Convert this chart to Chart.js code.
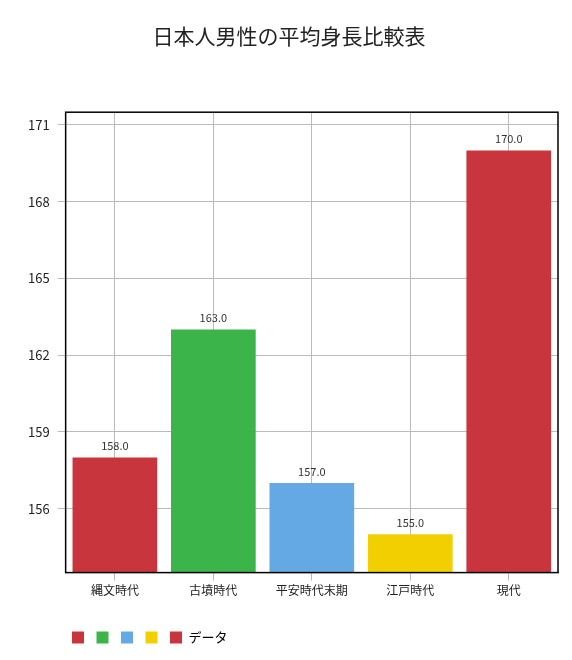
<!DOCTYPE html>
<html><head><meta charset="utf-8">
<script src="https://cdn.jsdelivr.net/npm/chart.js@4"></script>
<style>body{margin:0;background:#fff}#wrap{width:572px;height:660px}</style>
</head><body><div id="wrap"><canvas id="c"></canvas></div>
<script>
const categories = ['縄文時代', '古墳時代', '平安時代末期', '江戸時代', '現代'];
const heights = [158.0, 163.0, 157.0, 155.0, 170.0];
const barColors = ['#c9353d', '#3bb54a', '#64a9e3', '#f2cf00', '#c9353d'];
const yTicks = [156, 159, 162, 165, 168, 171];
const font = '"Noto Sans CJK JP", "Noto Sans", sans-serif';

const valueLabels = {
  id: 'valueLabels',
  afterDatasetsDraw(chart) {
    const ctx = chart.ctx;
    ctx.save();
    ctx.font = '11px ' + font;
    ctx.fillStyle = '#333';
    ctx.textAlign = 'center';
    ctx.textBaseline = 'bottom';
    chart.getDatasetMeta(0).data.forEach((bar, i) => {
      ctx.fillText(heights[i].toFixed(1), bar.x, bar.y - 6);
    });
    ctx.restore();
  }
};
const frame = {
  id: 'frame',
  afterLayout(chart) {
    // push the legend in to line up with the plot area
    chart.legend.left += 46;
    chart.legend.right += 46;
  },
  afterDraw(chart) {
    const a = chart.chartArea, ctx = chart.ctx;
    ctx.save();
    ctx.strokeStyle = '#000';
    ctx.lineWidth = 1.5;
    ctx.strokeRect(a.left, a.top, a.right - a.left, a.bottom - a.top);
    ctx.restore();
  }
};

new Chart(document.getElementById('c'), {
  type: 'bar',
  data: {
    labels: categories,
    datasets: [{ label: 'データ', data: heights, backgroundColor: barColors, categoryPercentage: 0.86, barPercentage: 1 }]
  },
  options: {
    responsive: true,
    maintainAspectRatio: false,
    animation: false,
    layout: { padding: { left: 20, right: 14, top: 10, bottom: 6 } },
    plugins: {
      title: { display: true, text: '日本人男性の平均身長比較表', font: { family: font, size: 21, weight: 'normal' }, color: '#222', padding: { top: 13, bottom: 64 } },
      legend: {
        position: 'bottom', align: 'start',
        labels: {
          font: { family: font, size: 13 }, color: '#333', boxWidth: 12, boxHeight: 12, padding: 6,
          generateLabels: () => barColors.map((c, i) => ({
            text: i === barColors.length - 1 ? 'データ' : '', fillStyle: c, strokeStyle: c, lineWidth: 0
          }))
        }
      },
      tooltip: { enabled: false }
    },
    scales: {
      x: {
        grid: { color: '#bbb', offset: false },
        ticks: { font: { family: font, size: 12 }, color: '#222' },
        border: { color: '#000' },
        afterFit: s => { s.height += 24; }
      },
      y: {
        min: 153.5, max: 171.5,
        afterBuildTicks: s => { s.ticks = yTicks.map(v => ({ value: v })); },
        grid: { color: '#bbb' },
        ticks: { font: { family: font, size: 13 }, color: '#222', padding: 8 },
        border: { color: '#000' }
      }
    }
  },
  plugins: [valueLabels, frame]
});
</script></body></html>
